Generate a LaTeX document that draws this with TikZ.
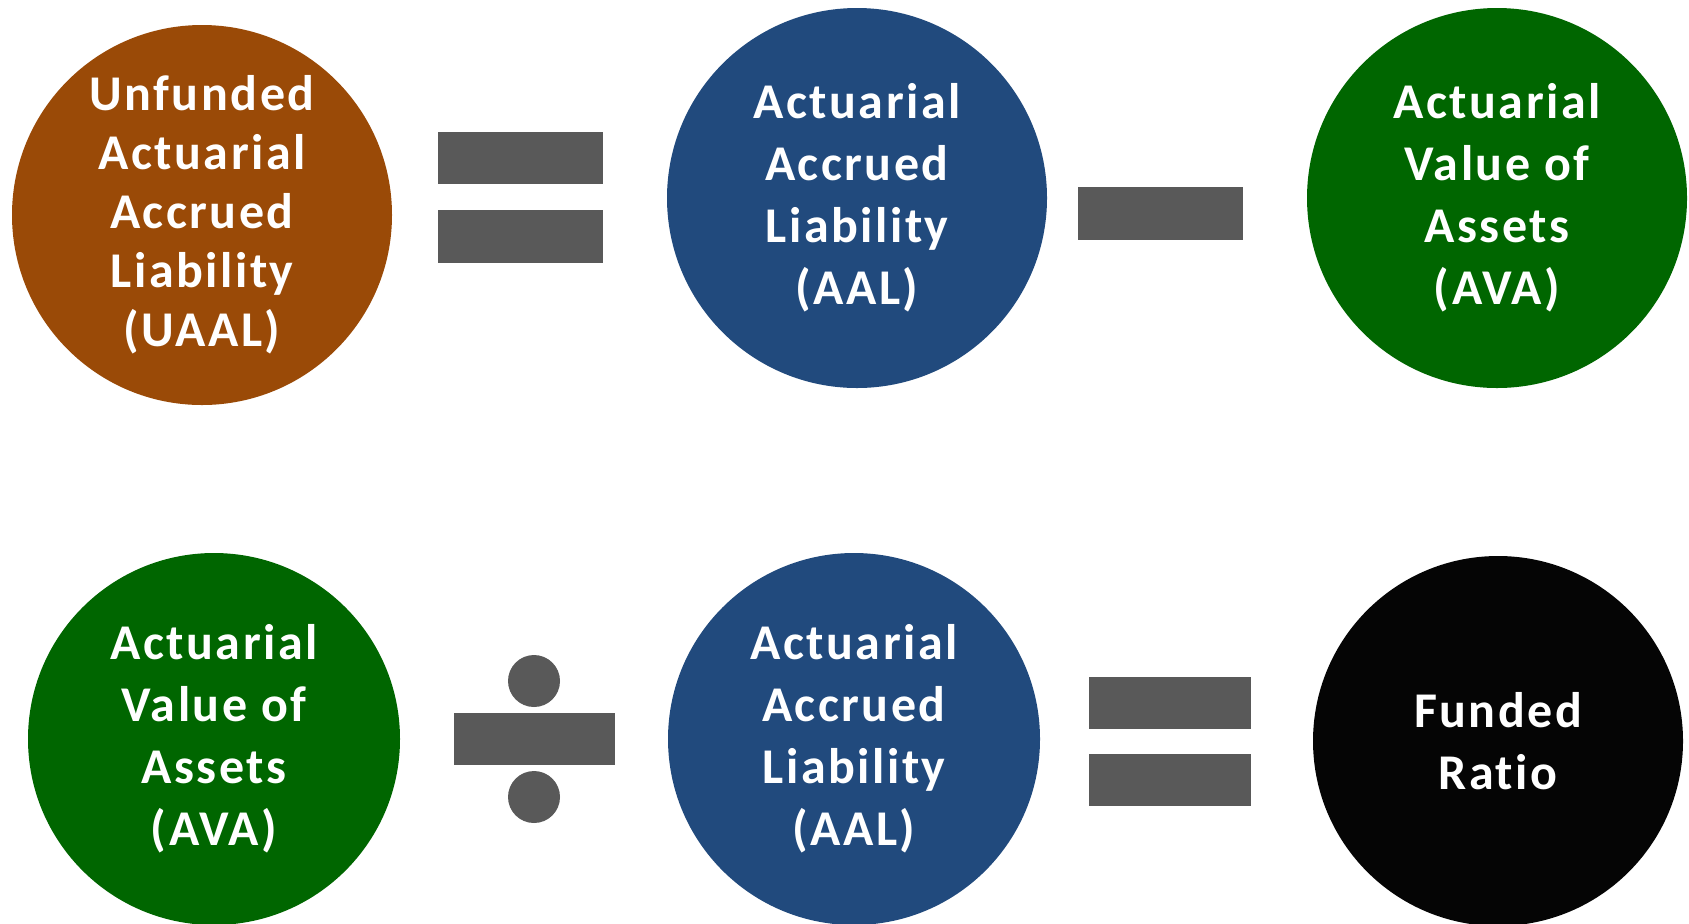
\documentclass[tikz,border=0pt]{standalone}
\usepackage{fontspec}
\newfontfamily\termfont{Carlito}[LetterSpace=5, Ligatures=NoCommon]
\usepackage{tikz}

\definecolor{uaalbrown}{HTML}{9A4A07}
\definecolor{aalblue}{HTML}{214A7D}
\definecolor{avagreen}{HTML}{006600}
\definecolor{ratioblack}{HTML}{050505}
\definecolor{signgrey}{HTML}{595959}

\begin{document}
\begin{tikzpicture}[x=0.5pt, y=-0.5pt,
    term/.style={circle, inner sep=0pt, minimum size=190pt, text=white, align=center,
      font=\termfont\bfseries\fontsize{25}{31}\selectfont}]
      \useasboundingbox (0, 0) rectangle (1689, 923);
      % first line: UAAL = AAL - AVA
      \node[term, fill=uaalbrown, font=\termfont\bfseries\fontsize{25}{29.5}\selectfont] (uaal) at (202, 215)
        {Unfunded\\Actuarial\\Accrued\\Liability\\(UAAL)};
      \node[term, fill=aalblue] (aal1) at (857, 198)
        {Actuarial\\Accrued\\Liability\\(AAL)};
      \node[term, fill=avagreen] (ava1) at (1497, 198)
        {Actuarial\\Value of\\Assets\\(AVA)};
      \fill[signgrey] (438, 132) rectangle (603, 184);
      \fill[signgrey] (438, 210) rectangle (603, 263);
      \fill[signgrey] (1078, 187) rectangle (1243, 240);
      % second line: AVA / AAL = funded ratio
      \node[term, fill=avagreen, minimum size=186pt] (ava2) at (214, 739)
        {Actuarial\\Value of\\Assets\\(AVA)};
      \node[term, fill=aalblue, minimum size=186pt] (aal2) at (854, 739)
        {Actuarial\\Accrued\\Liability\\(AAL)};
      \node[term, fill=ratioblack, minimum size=185pt] (ratio) at (1498, 741)
        {Funded\\Ratio};
      \fill[signgrey] (534, 681) circle [radius=26];
      \fill[signgrey] (454, 713) rectangle (615, 765);
      \fill[signgrey] (534, 797) circle [radius=26];
      \fill[signgrey] (1089, 677) rectangle (1251, 729);
      \fill[signgrey] (1089, 754) rectangle (1251, 806);
\end{tikzpicture}
\end{document}
